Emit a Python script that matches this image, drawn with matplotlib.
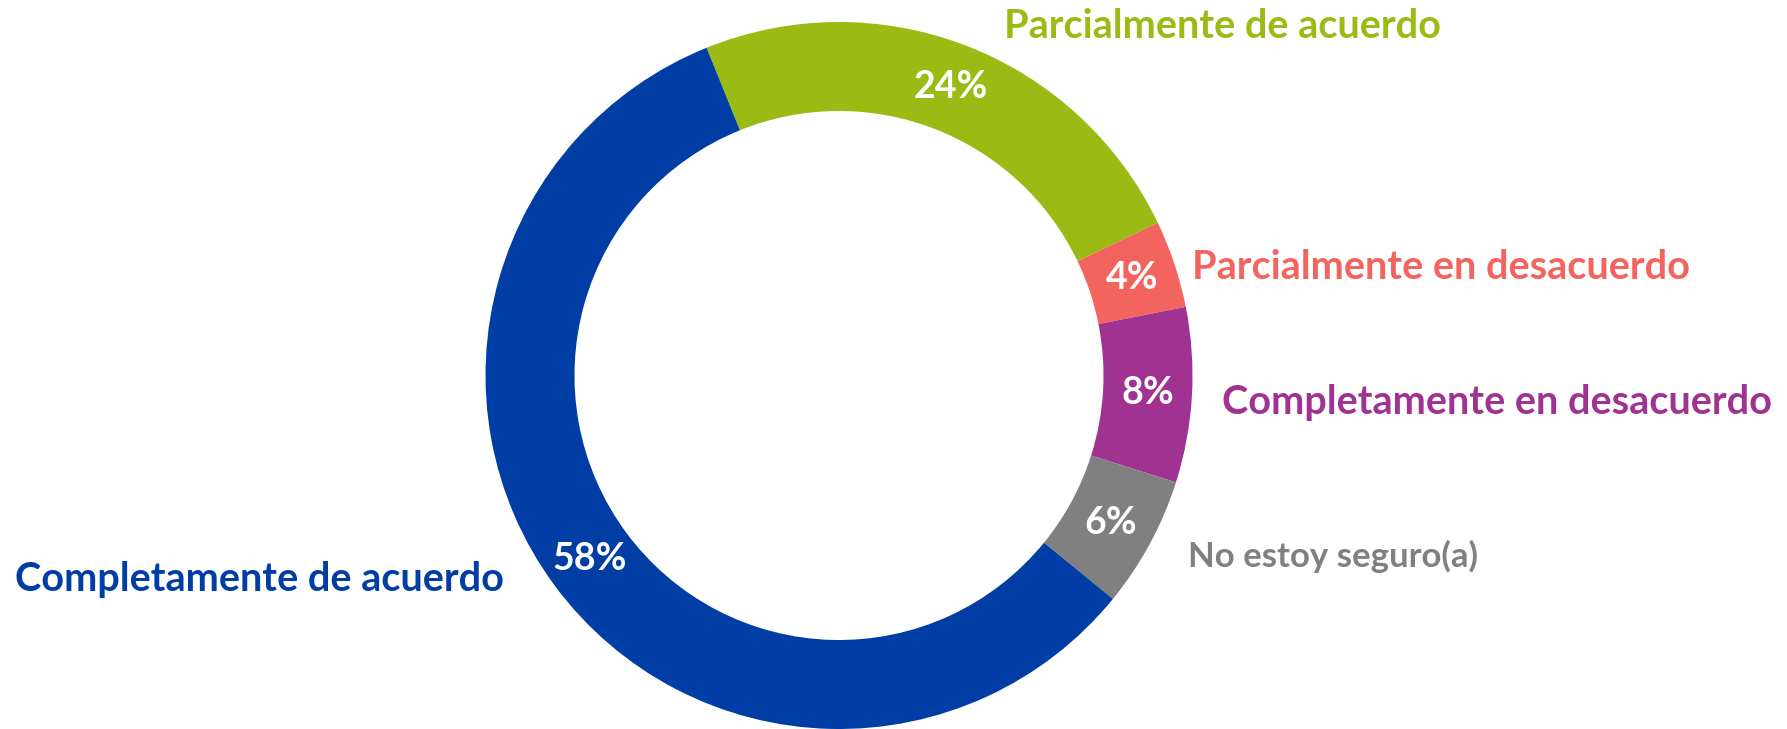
import matplotlib
matplotlib.use("Agg")
import matplotlib.pyplot as plt

# datos de la encuesta
categorias = [
    "Parcialmente de acuerdo",
    "Parcialmente en desacuerdo",
    "Completamente en desacuerdo",
    "No estoy seguro(a)",
    "Completamente de acuerdo",
]
porcentajes = [24, 4, 8, 6, 58]
colores = ["#9BBB14", "#F4645F", "#A03291", "#808080", "#003EA5"]

W, H = 1787, 729
FUENTE = "Lato"


def main():
    fig = plt.figure(figsize=(W / 100, H / 100), dpi=100)
    ax = fig.add_axes([0, 0, 1, 1])

    cx, cy, r = 839, H - 375.5, 353.5
    wedges, _, pct = ax.pie(
        porcentajes,
        colors=colores,
        startangle=112,
        counterclock=False,
        radius=r,
        center=(cx, cy),
        wedgeprops=dict(width=89, edgecolor="none"),
        autopct=lambda p: f"{p:.0f}%",
        pctdistance=0.875,
        textprops=dict(color="white", fontsize=27, fontweight="bold", family=FUENTE),
    )

    # etiquetas de categoria (posicion en pixeles: x izquierda, linea base)
    posiciones = [(1004, 38), (1192, 279), (1222, 414), (1188, 567), (15, 591)]
    tamanos = [28.5, 28.5, 28.5, 25, 28.5]
    for nombre, color, (x, y), fs in zip(categorias, colores, posiciones, tamanos):
        ax.text(x, H - y, nombre, color=color, fontsize=fs, fontweight="bold",
                family=FUENTE, ha="left", va="baseline")

    ax.set_xlim(0, W)
    ax.set_ylim(0, H)
    ax.set_aspect("equal")
    ax.axis("off")
    fig.savefig("out.png", dpi=100, facecolor="white")


if __name__ == "__main__":
    main()
